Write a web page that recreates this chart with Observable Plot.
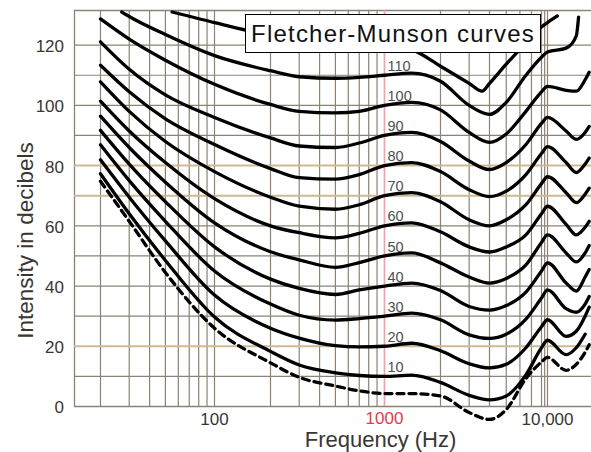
<!DOCTYPE html>
<html>
<head>
<meta charset="utf-8">
<script src="https://cdn.jsdelivr.net/npm/d3@7"></script>
<script src="https://cdn.jsdelivr.net/npm/@observablehq/plot@0.6"></script>
<style>
  body { margin: 0; background: #fff; }
  #wrap { position: relative; width: 591px; height: 452px; overflow: hidden; }
  #title {
    position: absolute; left: 245px; top: 14px; width: 296px; height: 39px;
    box-sizing: border-box; border: 1.5px solid #000; background: #fff;
    font: 24px "Liberation Sans", Arial, Helvetica, sans-serif; letter-spacing: 1.2px;
    display: flex; align-items: center; justify-content: center; color: #111;
  }
</style>
</head>
<body>
<div id="wrap"><div id="title">Fletcher-Munson curves</div></div>
<script>
// Frequencies (Hz) at which the curves were read
const freqs = [20, 27, 30, 50, 55, 100, 200, 300, 500, 700, 1000, 1400, 2000, 3000, 3600, 4000, 5000, 6500, 8000, 10000, 11500, 13000, 15000, 15500, 17000, 18000];

// Intensity (dB) of each equal-loudness curve at those frequencies (null = not drawn there)
const threshold = [74.8, null, 61.5, 44.5, null, 26, 14.5, 9.7, 6.8, 5.2, 4.3, 4.3, 3.5, -2.0, null, -4.3, -1.0, 9.3, 14.8, 16.3, null, 12, 14, null, 18, 20.5];
const phon10  = [77.3, null, 64, 48.5, null, 29.7, 18.3, 13.8, 11.2, 10.3, 10, 10.4, 8, 3.7, null, 2.2, 3.5, 10.5, 19.5, 22, null, 17.2, 19.5, null, 24, null];
const phon20  = [81.9, null, 69.5, 55, null, 37, 26, 22.7, 20.2, 19.8, 20, 21, 18.5, 14.2, null, 12.8, 14, 19.5, 26.5, 28.8, null, 23.3, 25, null, 30, 33];
const phon30  = [86.9, null, 75, 61.5, null, 45, 34, 30.3, 28.7, 29.2, 30, 31, 28.8, 23.8, null, 22.6, 24, 29, 36, 38.7, null, 32.5, 31.3, null, 34, 36.5];
const phon40  = [91.7, null, 80.5, 68, null, 53, 42.3, 39.2, 37.2, 38.7, 40, 41, 38.5, 33.2, null, 32, 33.5, 38, 45, 47.7, null, 41, 38.3, null, 43, 45.5];
const phon50  = [96.4, null, 86, 74.5, null, 61, 51.4, 48.7, 46.2, 47.8, 50, 51, 47.7, 43, null, 41, 42.5, 47, 54.5, 57, null, 51, 48, null, 51, 53.5];
const phon60  = [101.4, null, 91.5, 81, null, 69, 60, 57.7, 56, 57.5, 60, 61, 58, 53, null, 51.3, 53, 57, 64, 66.5, null, 60.5, 57, null, 59.5, 61.5];
const phon70  = [107.8, null, 98, 88, null, 78, 69.5, 66.5, 65.5, 67, 70, 71, 68, 62, null, 60, 62, 67, 74, 76.3, null, 71, 67.7, null, 70.5, 72.5];
const phon80  = [113.3, null, 104.5, 95.5, null, 87, 79, 76, 75.5, 77, 80, 81, 78, 72, null, 69.7, 71.5, 77, 84, 86.3, null, 81, 77.7, null, 80.5, 82.5];
const phon90  = [121.1, null, 112, 103.5, null, 96, 89.2, 86.5, 86, 87.5, 90, 91, 88, 81.5, null, 78.7, 81, 87, 94, 96, null, 91.5, 88.7, null, 91, 93];
const phon100 = [128.7, null, 122, 115, null, 107, 100.3, 98, 97.5, 98, 100, 101, 98.5, 91, null, 87.7, 90.5, 98, 104.5, 106.3, null, 105, 104.7, null, 108.5, 111];
const phon110 = [null, 131, 129.5, 123.5, null, 116.5, 111.5, 109.5, 109, 109.3, 110, 110.7, 108, 100, null, 97, 101, 110, 116, 117.7, null, 119, 123, 129.3, null, null];
const phon120 = [null, null, null, null, 131, 127.5, 123.3, 122, 120.8, 120.3, 120, 118.5, 113, 107.3, 104.7, 107.3, 113.7, 120.7, 126, 127.5, 129.7, null, null, null, null, null];

const curveNames = ["0", "10", "20", "30", "40", "50", "60", "70", "80", "90", "100", "110", "120"];
const curveValues = [threshold, phon10, phon20, phon30, phon40, phon50, phon60, phon70, phon80, phon90, phon100, phon110, phon120];

// Curve labels placed at 1000 Hz
const curveLabels = [10, 20, 30, 40, 50, 60, 70, 80, 90, 100, 110];

// Axis ticks and grid
const yTicks = [0, 20, 40, 60, 80, 100, 120];
const xTicks = [100, 10000];
const xTickText = ["100", "10,000"];
const xTickRed = [1000];
const gridFreqs = [20, 30, 40, 50, 60, 70, 80, 90, 100, 200, 300, 400, 500, 600, 700, 800, 900, 2000, 3000, 4000, 5000, 6000, 7000, 8000, 9000, 10000];
const gridDbGray = [10, 30, 40, 50, 60, 90, 100, 110, 120];
const gridDbTan = [20, 70, 80];

// Scale extents (hand-drawn log grid of the original, piecewise)
const xDomain = [13.8, 20, 100, 200, 1000, 2000, 4000, 8000, 10000, 18600];
const xRange  = [74, 100, 214, 270, 384, 440, 489, 541, 547, 591];
const yTop = 131.5;

const rows = curveNames.flatMap((name, k) =>
  freqs.map((f, i) => ({f, db: curveValues[k][i], name})).filter(d => d.db != null));

const gridColor = "#8c8374";
const tanColor = "#cdb994";
const textColor = "#3a3631";

const chart = Plot.plot({
  width: 591, height: 452,
  marginLeft: 74, marginRight: 0, marginTop: 10, marginBottom: 46,
  style: {fontFamily: '"Liberation Sans", Arial, Helvetica, sans-serif', background: "white", overflow: "visible"},
  x: {type: "log", domain: xDomain, range: xRange, axis: null},
  y: {domain: [0, yTop], range: [406, 10], axis: null},
  marks: [
    Plot.ruleX(gridFreqs, {stroke: gridColor, strokeWidth: 1.2}),
    Plot.ruleX([xDomain[0]], {stroke: gridColor, strokeWidth: 1.3}),
    Plot.ruleY(gridDbGray, {stroke: gridColor, strokeWidth: 1.2}),
    Plot.ruleY([0, yTop], {stroke: gridColor, strokeWidth: 1.3}),
    Plot.ruleY(gridDbTan, {stroke: tanColor, strokeWidth: 2}),
    Plot.ruleX(xTickRed, {stroke: "#f4a0a8", strokeWidth: 1.7}),
    Plot.line(rows.filter(d => d.name !== "0"), {
      x: "f", y: "db", z: "name", curve: "monotone-x",
      stroke: "#000", strokeWidth: 3.3, strokeLinecap: "round", strokeLinejoin: "round"
    }),
    Plot.line(rows.filter(d => d.name === "0"), {
      x: "f", y: "db", curve: "monotone-x",
      stroke: "#000", strokeWidth: 3.3, strokeDasharray: "7,5"
    }),
    Plot.text(curveLabels, {
      x: () => 1000, y: d => d, text: d => String(d),
      dx: 3, dy: -9, textAnchor: "start", fontSize: 14.5, fill: "#4f4f4f"
    }),
    Plot.text(yTicks, {
      frameAnchor: "left", y: d => d, text: d => String(d),
      textAnchor: "end", lineAnchor: "middle", dx: -10.5, dy: 1.5, fontSize: 17, fill: textColor
    }),
    Plot.text(xTicks, {
      x: d => d, y: () => 0, text: (d, i) => xTickText[i],
      dy: 13, fontSize: 17, fill: textColor
    }),
    Plot.text(xTickRed, {
      x: d => d, y: () => 0, text: d => String(d),
      dy: 12, fontSize: 17, fill: "#e8394a"
    }),
    Plot.text(["Intensity in decibels"], {
      frameAnchor: "left", text: d => d, rotate: -90,
      textAnchor: "middle", lineAnchor: "middle",
      dx: -49, dy: 32, fontSize: 22.5, fill: textColor
    }),
    Plot.text(["Frequency (Hz)"], {
      frameAnchor: "bottom", text: d => d,
      textAnchor: "middle", lineAnchor: "middle",
      dx: 47.5, dy: 33, fontSize: 22, fill: textColor
    })
  ]
});

document.getElementById("wrap").prepend(chart);
</script>
</body>
</html>
